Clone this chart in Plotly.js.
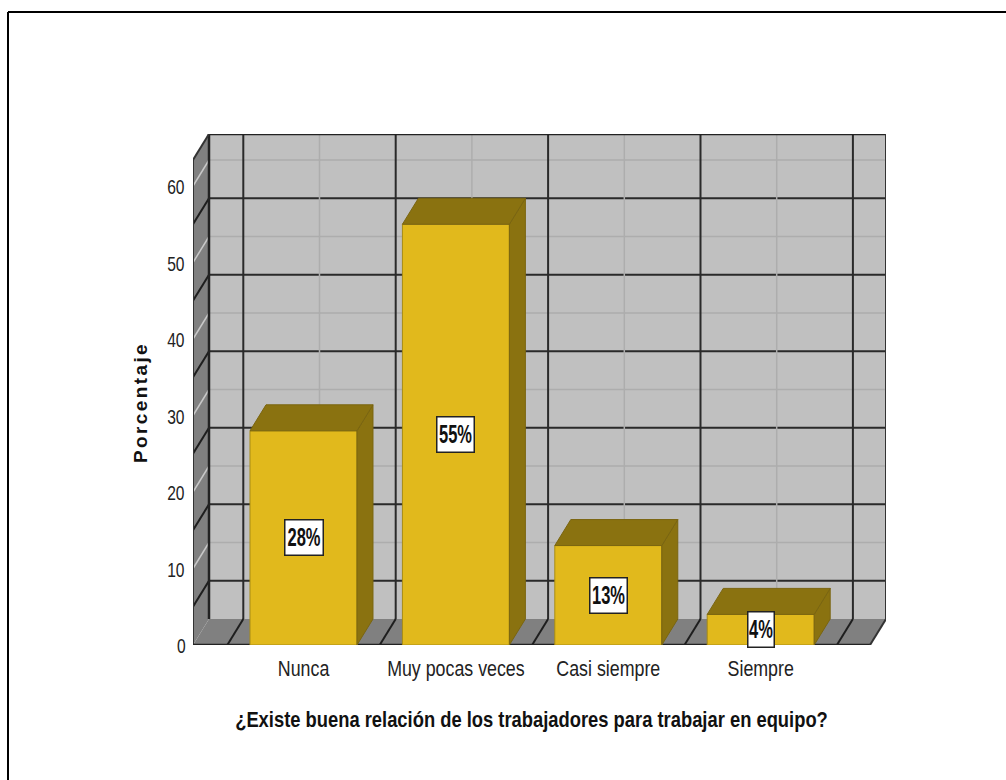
<!DOCTYPE html>
<html><head><meta charset="utf-8">
<script src="https://cdn.plot.ly/plotly-3.0.1.min.js"></script>
<style>html,body{margin:0;padding:0;background:#fff;overflow:hidden}#c{width:1006px;height:780px}</style>
</head><body><div id="c"></div>
<script>
const categories = ["Nunca","Muy pocas veces","Casi siempre","Siempre"];
const percentages = [28,55,13,4];
const labels = ["28%","55%","13%","4%"];
const labelWidths = [40,39,39,28];
const yTicks = [0,10,20,30,40,50,60];

const SANS = '"Liberation Sans",Arial,sans-serif';
const WALL='#C0C0C0', SIDE='#808080', FACE='#E1B91C', DARK='#8A7210', EDGE='#7A6510';
const W=1006,H=780,L=193,T=134,R=886,B=645;
const pxX=152.4, pxY=7.65;
const x0=-(303.5-L)/pxX, x1=x0+(R-L)/pxX;
const y1=(B-T)/pxY;
const dx=16/pxX, dy=26/pxY;
const hw=0.351;
const xL=x0, xR=x1-dx, yTop=y1-dy;

const poly=(pts,fill)=>({type:'path',xref:'x',yref:'y',layer:'below',
  path:'M'+pts.map(p=>p[0]+','+p[1]).join('L')+'Z',fillcolor:fill,line:{width:0}});
const seg=(a,b,color,width)=>({type:'line',xref:'x',yref:'y',layer:'below',x0:a[0],y0:a[1],x1:b[0],y1:b[1],line:{color,width}});

const shapes=[];
shapes.push(poly([[xL+dx,dy],[xR+dx,dy],[xR+dx,y1],[xL+dx,y1]],WALL));
shapes.push(poly([[xL,0],[xL+dx,dy],[xL+dx,y1],[xL,yTop]],SIDE));
shapes.push(poly([[xL,0],[xR,0],[xR+dx,dy],[xL+dx,dy]],SIDE));
for(let v=5;v<=yTop;v+=5){
  const major=v%10!==0;
  shapes.push(seg([xL+dx,v+dy],[xR+dx,v+dy],major?'#2a2a2a':'#adadad',major?2:1.5));
  shapes.push(seg([xL,v],[xL+dx,v+dy],major?'#1e1e1e':'#c8c8c8',major?2:1.5));
}
for(let i=-0.5;i<=xR;i+=0.5){
  const major=(i*2)%2!==0;
  shapes.push(seg([i+dx,dy],[i+dx,y1],major?'#2a2a2a':'#adadad',major?2:1.5));
  shapes.push(seg([i,0],[i+dx,dy],major?'#1e1e1e':'#9a9a9a',major?2:1));
}
shapes.push(seg([xL+dx,dy],[xL+dx,y1],'#222',2.5));
shapes.push(seg([xL+dx,y1],[xR+dx,y1],'#222',2.5));
shapes.push(seg([xR+dx,dy],[xR+dx,y1],'#333',2));
shapes.push(seg([xL,0],[xL,yTop],'#333',2));
shapes.push(seg([xL,yTop],[xL+dx,y1],'#333',2));
shapes.push(seg([xL,0],[xR,0],'#222',2.5));
shapes.push(seg([xR,0],[xR+dx,dy],'#333',2));
const px=v=>(v-L)/(R-L), py=v=>(B-v)/(B-T);
shapes.push({type:'line',xref:'paper',yref:'paper',x0:px(8),x1:px(1006),y0:py(12),y1:py(12),line:{color:'#000',width:2}});
shapes.push({type:'line',xref:'paper',yref:'paper',x0:px(8),x1:px(8),y0:py(12),y1:py(780),line:{color:'#000',width:2}});

const traces=[];
categories.forEach((c,i)=>{
  const v=percentages[i], a=i-hw, b=i+hw;
  traces.push({type:'scatter',mode:'lines',x:[b,b+dx,b+dx,b,b],y:[0,dy,v+dy,v,0],fill:'toself',fillcolor:DARK,
    line:{color:EDGE,width:1},hoverinfo:'skip',showlegend:false});
  traces.push({type:'scatter',mode:'lines',x:[a,b,b+dx,a+dx,a],y:[v,v,v+dy,v+dy,v],fill:'toself',fillcolor:DARK,
    line:{color:EDGE,width:1},hoverinfo:'skip',showlegend:false});
});
traces.push({type:'bar',x:categories.map((c,i)=>i),y:percentages,width:hw*2,
  marker:{color:FACE,line:{color:'#A88C14',width:1}},showlegend:false,hoverinfo:'y'});

const annotations=categories.map((c,i)=>({x:i,y:percentages[i]/2,xref:'x',yref:'y',text:'<b>'+labels[i]+'</b>',
  showarrow:false,bgcolor:'#fff',bordercolor:'#222',borderwidth:1.5,borderpad:1,
  width:labelWidths[i]-5,height:32,align:'center',valign:'middle',
  font:{family:SANS,size:25,color:'#111'},xanchor:'center',yanchor:'middle'}));

const gd=document.getElementById('c');
Plotly.newPlot(gd,traces,{
  width:W,height:H,autosize:false,showlegend:false,
  margin:{l:L,r:W-R,t:T,b:H-B,pad:0},
  paper_bgcolor:'#fff',plot_bgcolor:'rgba(0,0,0,0)',
  bargap:0,
  font:{family:SANS,color:'#222'},
  shapes,annotations,
  xaxis:{type:'linear',range:[x0,x1],tickmode:'array',tickvals:categories.map((c,i)=>i),ticktext:categories,
    showgrid:false,zeroline:false,showline:false,ticks:'',ticklabelstandoff:8,
    tickfont:{family:SANS,size:22,color:'#222'},
    title:{text:'<b>¿Existe buena relación de los trabajadores para trabajar en equipo?</b>',
      font:{family:SANS,size:22,color:'#111'},standoff:18}},
  yaxis:{range:[0,y1],tickmode:'array',tickvals:yTicks,ticktext:yTicks.map(String),
    showgrid:false,zeroline:false,showline:false,ticks:'',ticklabelstandoff:5,
    tickfont:{family:SANS,size:20,color:'#222'},
    title:{text:'<b>Porcentaje</b>',font:{family:SANS,size:19,color:'#111'},standoff:30}}
},{staticPlot:true,displayModeBar:false}).then(()=>{
  const condense=(el,s,mx,my)=>{
    const b=el.getBBox(), cx=b.x+b.width/2, t=el.getAttribute('transform')||'';
    el.setAttribute('transform',`translate(${mx||0},${my||0}) ${t} translate(${cx},0) scale(${s},1) translate(${-cx},0)`);
  };
  gd.querySelectorAll('.annotation [clip-path], .annotation-text-g [clip-path]').forEach(e=>e.removeAttribute('clip-path'));
  gd.querySelectorAll('.xtick text').forEach(e=>condense(e,0.81));
  gd.querySelectorAll('.ytick text').forEach(e=>condense(e,0.78,0,1));
  gd.querySelectorAll('.annotation-text').forEach(e=>condense(e,0.66));
  const xt=gd.querySelector('.xtitle'); if(xt) condense(xt,0.835,-8,13);
  const yt=gd.querySelector('.ytitle'); if(yt){yt.style.letterSpacing='2.4px'; condense(yt,1,18,13);}
});
</script></body></html>
